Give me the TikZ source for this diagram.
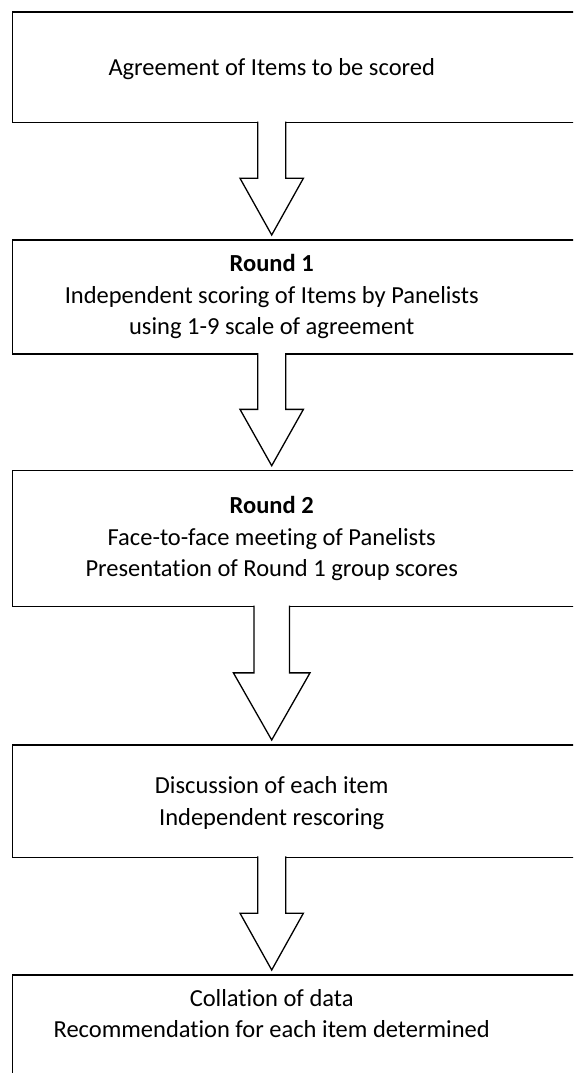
\documentclass[tikz,border=0pt]{standalone}
\usepackage{fontspec}
\setmainfont{Carlito}[Ligatures=NoCommon]
\usetikzlibrary{calc}

\begin{document}
\begin{tikzpicture}[x=1pt, y=-1pt,
  stage/.style={draw=black, line width=1.3pt, anchor=north west, outer sep=0pt,
                minimum width=600pt, inner sep=0pt},
  stagetxt/.style={align=center, inner sep=0pt, font=\fontsize{24.5}{31.5}\selectfont},
  flow/.style={draw=black, line width=1.3pt, fill=white, line join=miter}]
  \useasboundingbox (0,0) rectangle (573,1073);
  \clip (0,0) rectangle (573,1073);
  \coordinate (ax) at (271.7,0);
  % stage boxes (right side runs past the page)
  \node[stage, minimum height=110.5pt] (s1) at (12.5,12) {};
  \node[stage, minimum height=114pt]   (s2) at (12.5,240) {};
  \node[stage, minimum height=136pt]   (s3) at (12.5,470.7) {};
  \node[stage, minimum height=112.3pt] (s4) at (12.5,745) {};
  \node[stage, minimum height=130pt]   (s5) at (12.5,975) {};
  % stage texts
  \node[stagetxt] (t1) at (271.7,69) {Agreement of Items to be scored};
  \node[stagetxt] (t2) at (271.7,297) {\textbf{Round 1}\\Independent scoring of Items by Panelists\\using 1-9 scale of agreement};
  \node[stagetxt] (t3) at (271.7,538.7) {\textbf{Round 2}\\Face-to-face meeting of Panelists\\Presentation of Round 1 group scores};
  \node[stagetxt] (t4) at (271.7,803.2) {Discussion of each item\\Independent rescoring};
  \node[stagetxt] (t5) at (271.7,1013.5) {Collation of data\\Recommendation for each item determined};
  % block arrows between stages
  \foreach \a/\b/\w/\h in {s1/s2/14/31.7, s2/s3/14/31.7, s3/s4/17.7/38.3, s4/s5/14/31.7}{
    \coordinate (top) at ([yshift=1pt]\a.south -| ax);
    \coordinate (tip) at ([yshift=5pt]\b.north -| ax);
    \coordinate (mid) at ($(top)!0.5!(tip)$);
    \draw[flow] ([xshift=-\w pt]top) -- ([xshift=-\w pt]mid) -- ([xshift=-\h pt]mid) -- (tip)
      -- ([xshift=\h pt]mid) -- ([xshift=\w pt]mid) -- ([xshift=\w pt]top);
  }
\end{tikzpicture}
\end{document}
